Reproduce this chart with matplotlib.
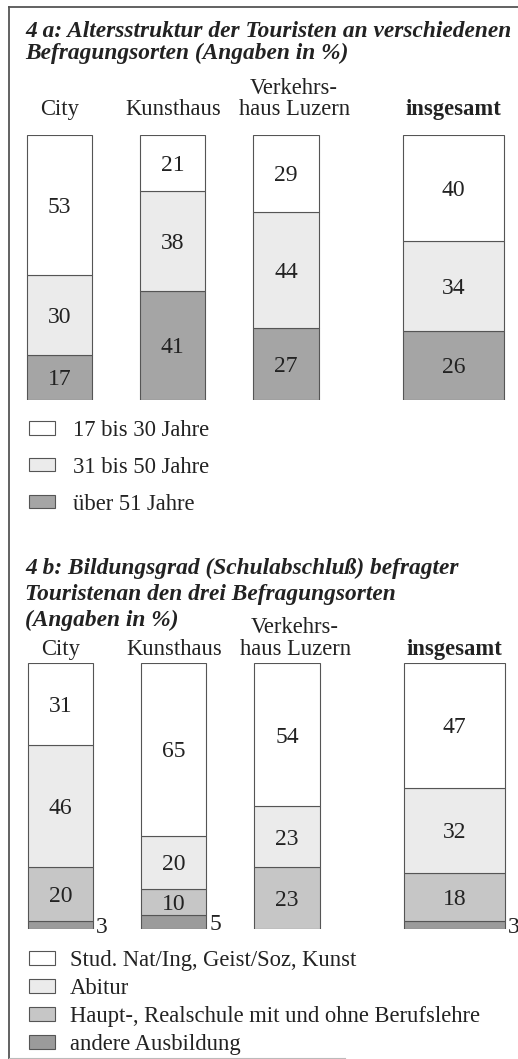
import matplotlib
matplotlib.use("Agg")
import numpy as np
import matplotlib.pyplot as plt
import matplotlib.transforms as mtransforms
from matplotlib.patches import Patch
from matplotlib.lines import Line2D

# categories (column headers)
orte = ["City", "Kunsthaus", "Verkehrs-\nhaus Luzern", "insgesamt"]

# 4a: Altersstruktur (%)
alter_labels = ["17 bis 30 Jahre", "31 bis 50 Jahre", "über 51 Jahre"]
alter_17_30 = [53, 21, 29, 40]
alter_31_50 = [30, 38, 44, 34]
alter_ueber_51 = [17, 41, 27, 26]

# 4b: Bildungsgrad (%)
bildung_labels = ["Stud. Nat/Ing, Geist/Soz, Kunst", "Abitur",
                  "Haupt-, Realschule mit und ohne Berufslehre", "andere Ausbildung"]
bildung_studium = [31, 65, 54, 47]
bildung_abitur = [46, 20, 23, 32]
bildung_haupt = [20, 10, 23, 18]
bildung_andere = [3, 5, 0, 3]

W, H = 518, 1059
SERIF = "Liberation Serif"
FS = 16.3      # headers, legends
FS_NUM = 17    # numbers in the bars
FS_TITLE = 16.8
EDGE = "#555555"
TXT = "#222222"

c_weiss = "#ffffff"
c_hell = "#ebebeb"
c_mittel = "#c6c6c6"
c_dunkel = "#a5a5a5"
c_andere = "#9b9b9b"

pos = [0, 1, 2, 3.48]
widths = [0.574, 0.574, 0.58, 0.89]

fig = plt.figure(figsize=(W / 100, H / 100), dpi=100)
fig.patch.set_facecolor("white")


def stacked(ax, series, colors, header_pad):
    bottom = np.zeros(len(orte))
    for vals, col in zip(series, colors):
        vals = np.array(vals, dtype=float)
        bars = ax.bar(pos, vals, width=widths, bottom=bottom, color=col,
                      edgecolor=EDGE, linewidth=0.8)
        for rect, v in zip(bars, vals):
            if v == 0:
                continue
            cy = rect.get_y() + rect.get_height() / 2
            if v > 5:
                ax.text(rect.get_x() + rect.get_width() / 2, cy, str(int(v)),
                        ha="center", va="center_baseline", fontsize=FS_NUM,
                        family=SERIF, color=TXT)
            else:
                ax.annotate(str(int(v)), (rect.get_x() + rect.get_width(), cy),
                            xytext=(2, 0), textcoords="offset points",
                            ha="left", va="center_baseline", fontsize=FS_NUM,
                            family=SERIF, color=TXT)
        bottom += vals
    ax.set_ylim(0, 100)
    ax.set_xticks(pos, orte)
    ax.xaxis.tick_top()
    ax.tick_params(axis="x", length=0, pad=header_pad, labelsize=FS, labelcolor=TXT)
    ax.tick_params(axis="y", left=False, labelleft=False)
    for lbl in ax.get_xticklabels():
        lbl.set_family(SERIF)
        lbl.set_multialignment("center")
        lbl.set_linespacing(1.05)
    ax.get_xticklabels()[3].set_fontweight("bold")
    shift = mtransforms.ScaledTranslation(8 / 100, 0, fig.dpi_scale_trans)
    lab = ax.get_xticklabels()[2]
    lab.set_transform(lab.get_transform() + shift)
    for s in ax.spines.values():
        s.set_visible(False)
    ax.patch.set_alpha(0)


# ---- 4a ----
ax1 = fig.add_axes([0, 1 - 399.5 / H, 1, (399.5 - 135) / H])
ax1.set_xlim(-59.5 / 113.3, (W - 59.5) / 113.3)
stacked(ax1, [alter_ueber_51, alter_31_50, alter_17_30],
        [c_dunkel, c_hell, c_weiss], header_pad=10.5)

fig.text(25 / W, 1 - 37 / H, "4 a: Altersstruktur der Touristen an verschiedenen",
         family=SERIF, weight="bold", style="italic", fontsize=FS_TITLE, va="baseline", color=TXT)
fig.text(25 / W, 1 - 59 / H, "Befragungsorten (Angaben in %)",
         family=SERIF, weight="bold", style="italic", fontsize=FS_TITLE, va="baseline", color=TXT)

h1 = [Patch(facecolor=c, edgecolor=EDGE, linewidth=0.8) for c in [c_weiss, c_hell, c_dunkel]]
fig.legend(h1, alter_labels, loc="upper left", bbox_to_anchor=(29 / W, 1 - 420 / H),
           bbox_transform=fig.transFigure, frameon=False, borderpad=0, borderaxespad=0,
           handlelength=1.15, handleheight=0.52, handletextpad=0.8, labelspacing=0.7,
           prop={"family": SERIF, "size": FS}, labelcolor=TXT)

# ---- 4b ----
ax2 = fig.add_axes([0, 1 - 928.5 / H, 1, (928.5 - 663) / H])
ax2.set_xlim(-60.5 / 113.3, (W - 60.5) / 113.3)
stacked(ax2, [bildung_andere, bildung_haupt, bildung_abitur, bildung_studium],
        [c_andere, c_mittel, c_hell, c_weiss], header_pad=2.5)

for i, line in enumerate(["4 b: Bildungsgrad (Schulabschluß) befragter",
                          "Touristenan den drei Befragungsorten",
                          "(Angaben in %)"]):
    fig.text(25 / W, 1 - (574 + 26 * i) / H, line, family=SERIF, weight="bold",
             style="italic", fontsize=FS_TITLE, va="baseline", color=TXT)

h2 = [Patch(facecolor=c, edgecolor=EDGE, linewidth=0.8)
      for c in [c_weiss, c_hell, c_mittel, c_andere]]
fig.legend(h2, bildung_labels, loc="upper left", bbox_to_anchor=(29 / W, 1 - 950 / H),
           bbox_transform=fig.transFigure, frameon=False, borderpad=0, borderaxespad=0,
           handlelength=1.15, handleheight=0.52, handletextpad=0.65, labelspacing=0.31,
           prop={"family": SERIF, "size": FS}, labelcolor=TXT)

# frame of the scanned figure
fig.add_artist(Line2D([8.5 / W, 8.5 / W], [0, 1 - 6.5 / H], transform=fig.transFigure,
                      color="#555555", lw=1.3))
fig.add_artist(Line2D([8.5 / W, 1], [1 - 6.5 / H, 1 - 6.5 / H], transform=fig.transFigure,
                      color="#555555", lw=1.3))
fig.add_artist(Line2D([8.5 / W, 345 / W], [1 - 1057.5 / H, 1 - 1057.5 / H],
                      transform=fig.transFigure, color="#bbbbbb", lw=0.8))

fig.savefig("out.png", dpi=100)
